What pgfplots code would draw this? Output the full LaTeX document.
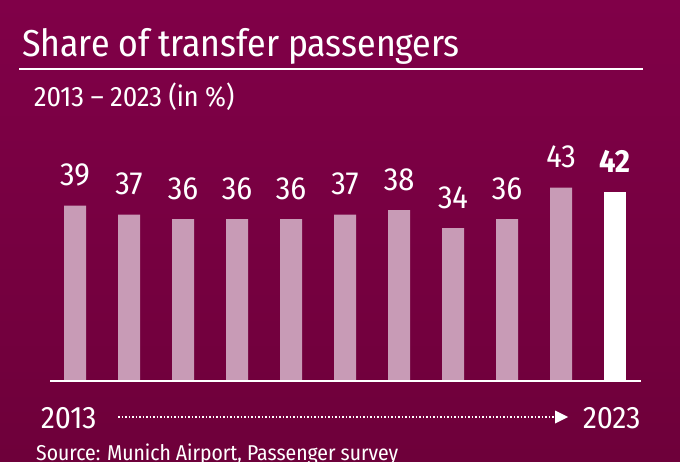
\documentclass[border=0pt]{standalone}
\usepackage{pgfplots}
\pgfplotsset{compat=1.18}
\usepackage{fontspec}
\IfFontExistsTF{Fira Sans Condensed}{\setmainfont{Fira Sans Condensed}}{\setmainfont{Fira Sans}}
\definecolor{bgtop}{RGB}{128,0,72}
\definecolor{bgbot}{RGB}{110,0,58}
\definecolor{barpink}{RGB}{200,155,182}
\begin{document}
\begin{tikzpicture}
\begin{scope}[x=1pt,y=1pt]
\shade[top color=bgtop,bottom color=bgbot] (0,0) rectangle (680,461);
\clip (0,0) rectangle (680,461);
% title block
\node[anchor=base west,inner sep=0pt,white,font=\fontsize{37.5}{40}\selectfont] at (22,404) {Share of transfer passengers};
\draw[white,line width=1.5pt] (19,392) -- (643,392);
\node[anchor=base west,inner sep=0pt,white,font=\fontsize{28}{30}\selectfont] at (34,354) {2013 – 2023 (in \%)};
% bottom timeline
\node[anchor=base west,inner sep=0pt,white,font=\fontsize{31}{32}\selectfont] at (41,33) {2013};
\draw[white,line width=1.5pt,dotted] (118,44) -- (556,44);
\fill[white] (555,50.5) -- (568,44) -- (555,37.5) -- cycle;
\node[anchor=base west,inner sep=0pt,white,font=\fontsize{31}{32}\selectfont] at (583,33) {2023};
\node[anchor=base west,inner sep=0pt,white,font=\fontsize{21.5}{23}\selectfont] at (36,1) {Source: Munich Airport, Passenger survey};
\end{scope}
\begin{axis}[
  at={(50pt,80pt)}, anchor=south west,
  scale only axis, width=591pt, height=202.5pt,
  xmin=-0.463, xmax=10.48, ymin=0, ymax=45,
  hide axis,
  /pgf/number format/assume math mode=true,
  ybar, bar width=22pt, bar shift=0pt,
  nodes near coords,
  every node near coord/.append style={white,anchor=south,inner sep=0pt,yshift=19pt,
    font=\fontsize{32}{32}\selectfont},
]
\addplot[fill=barpink,draw=none] coordinates {
(0,39) (1,37) (2,36) (3,36) (4,36) (5,37) (6,38) (7,34) (8,36) (9,43)
};
\addplot[fill=white,draw=none,
  every node near coord/.append style={font=\fontsize{32}{32}\selectfont\bfseries}]
  coordinates {(10,42)};
\end{axis}
\draw[white,line width=2pt] (50pt,80pt) -- (641pt,80pt);
\end{tikzpicture}
\end{document}
